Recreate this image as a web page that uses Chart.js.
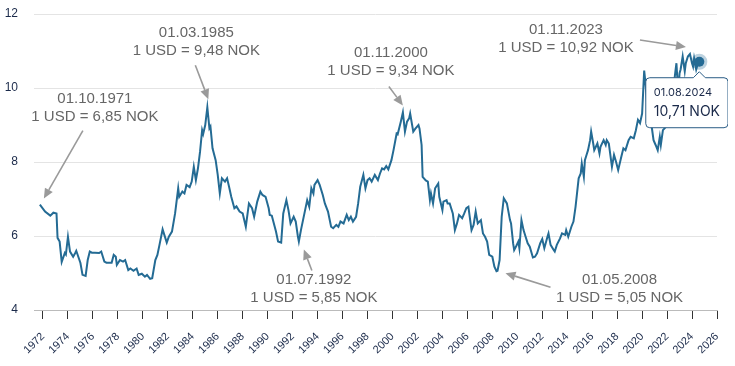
<!DOCTYPE html>
<html>
<head>
<meta charset="utf-8">
<script src="https://cdn.jsdelivr.net/npm/chart.js@4.4.1/dist/chart.umd.min.js"></script>
<style>
  html, body { margin: 0; padding: 0; background: #fff; }
  #wrap { position: relative; width: 728px; height: 366px; }
</style>
</head>
<body>
<div id="wrap"><canvas id="chart"></canvas></div>
<script>
// USD/NOK, monthly readings (YYYY-MM)
const months = [
  "1971-10","1972-03","1972-08","1972-11","1973-02","1973-03","1973-05","1973-07","1973-10","1973-11",
  "1974-01","1974-03","1974-06","1974-08","1974-09","1975-01","1975-03","1975-06","1975-08","1975-10",
  "1975-12","1976-03","1976-07","1976-09","1976-12","1977-02","1977-04","1977-07","1977-09","1977-11",
  "1977-12","1978-03","1978-06","1978-08","1978-11","1979-01","1979-04","1979-07","1979-09","1979-12",
  "1980-03","1980-05","1980-08","1980-10","1981-01","1981-03","1981-05","1981-08","1981-12","1982-02",
  "1982-05","1982-08","1982-11","1982-12","1983-03","1983-05","1983-07","1983-10","1983-12","1984-02",
  "1984-04","1984-06","1984-08","1984-10","1984-11","1985-01","1985-03","1985-05","1985-06","1985-08",
  "1985-11","1986-01","1986-03","1986-05","1986-08","1986-10","1986-12","1987-02","1987-05","1987-07",
  "1987-10","1988-01","1988-04","1988-07","1988-10","1988-12","1989-03","1989-06","1989-08","1989-11",
  "1990-02","1990-03","1990-05","1990-09","1990-11","1991-02","1991-04","1991-07","1991-09","1991-11",
  "1992-02","1992-04","1992-06","1992-07","1992-09","1993-01","1993-03","1993-05","1993-07","1993-09",
  "1993-10","1994-01","1994-03","1994-06","1994-08","1994-11","1995-02","1995-04","1995-07","1995-09",
  "1995-11","1996-02","1996-05","1996-07","1996-09","1996-11","1997-02","1997-04","1997-06","1997-09",
  "1997-11","1998-01","1998-03","1998-05","1998-08","1998-11","1999-01","1999-03","1999-05","1999-07",
  "1999-09","1999-12","2000-02","2000-05","2000-06","2000-09","2000-11","2001-01","2001-03","2001-05",
  "2001-06","2001-09","2001-11","2002-02","2002-03","2002-05","2002-06","2002-09","2002-11","2003-01",
  "2003-02","2003-04","2003-06","2003-09","2003-10","2004-01","2004-02","2004-05","2004-06","2004-08",
  "2004-11","2005-01","2005-03","2005-05","2005-08","2005-10","2005-12","2006-02","2006-05","2006-07",
  "2006-09","2006-11","2007-02","2007-04","2007-06","2007-08","2007-10","2008-01","2008-03","2008-05",
  "2008-06","2008-08","2008-10","2008-12","2009-03","2009-06","2009-07","2009-09","2009-10","2009-12",
  "2010-02","2010-03","2010-05","2010-07","2010-09","2010-11","2011-01","2011-04","2011-06","2011-08",
  "2011-11","2012-01","2012-03","2012-06","2012-07","2012-09","2012-12","2013-01","2013-03","2013-06",
  "2013-08","2013-11","2013-12","2014-02","2014-05","2014-07","2014-09","2014-12","2015-02","2015-03",
  "2015-05","2015-06","2015-08","2015-09","2015-11","2015-12","2016-02","2016-03","2016-06","2016-08",
  "2016-09","2016-12","2017-02","2017-03","2017-05","2017-08","2017-10","2017-12","2018-02","2018-05",
  "2018-07","2018-09","2018-12","2019-02","2019-05","2019-07","2019-09","2019-11","2020-01","2020-03",
  "2020-04","2020-05","2020-06","2020-08","2020-10","2020-12","2021-02","2021-04","2021-06","2021-07",
  "2021-09","2021-12","2022-02","2022-04","2022-06","2022-08","2022-09","2022-10","2022-11","2022-12",
  "2023-01","2023-02","2023-04","2023-06","2023-07","2023-09","2023-11","2024-01","2024-02","2024-03",
  "2024-05","2024-07","2024-08"
]
const usdNok = [
  6.85, 6.66, 6.55, 6.63, 6.61, 5.95, 5.85, 5.30, 5.54, 5.50,
  5.98, 5.58, 5.44, 5.54, 5.60, 5.27, 4.95, 4.92, 5.35, 5.58,
  5.55, 5.55, 5.54, 5.58, 5.31, 5.28, 5.28, 5.28, 5.49, 5.44,
  5.22, 5.35, 5.31, 5.35, 5.08, 5.12, 5.06, 5.12, 4.95, 4.98,
  4.90, 4.95, 4.84, 4.86, 5.35, 5.49, 5.76, 6.18, 5.82, 5.98,
  6.12, 6.61, 7.29, 7.06, 7.20, 7.15, 7.38, 7.32, 7.47, 7.87,
  7.51, 7.83, 8.28, 8.86, 8.76, 9.00, 9.48, 8.91, 8.96, 8.37,
  8.05, 7.65, 7.15, 7.56, 7.47, 7.56, 7.32, 7.06, 6.75, 6.80,
  6.66, 6.61, 6.25, 6.88, 6.75, 6.52, 6.93, 7.20, 7.11, 7.06,
  6.75, 6.57, 6.55, 6.12, 5.85, 5.82, 6.61, 6.97, 6.70, 6.34,
  6.52, 6.39, 6.00, 5.85, 6.16, 6.70, 6.97, 6.79, 7.29, 7.15,
  7.38, 7.51, 7.38, 7.11, 6.88, 6.66, 6.25, 6.21, 6.30, 6.25,
  6.39, 6.34, 6.57, 6.43, 6.52, 6.39, 6.52, 6.88, 7.33, 7.65,
  7.29, 7.51, 7.56, 7.47, 7.65, 7.51, 7.69, 7.83, 7.80, 7.89,
  7.80, 8.05, 8.32, 8.77, 8.75, 9.09, 9.34, 8.82, 9.09, 9.18,
  9.31, 8.82, 8.90, 9.00, 8.90, 8.46, 7.60, 7.50, 7.47, 6.97,
  7.15, 6.88, 7.29, 7.42, 7.06, 6.70, 6.93, 6.97, 6.88, 6.88,
  6.61, 6.16, 6.34, 6.57, 6.48, 6.61, 6.75, 6.79, 6.16, 6.30,
  6.66, 6.34, 6.43, 6.07, 5.98, 5.85, 5.49, 5.44, 5.17, 5.05,
  5.06, 5.35, 6.52, 7.02, 6.88, 6.43, 6.34, 5.80, 5.62, 5.73,
  5.85, 5.67, 6.43, 6.16, 5.98, 5.80, 5.71, 5.42, 5.44, 5.53,
  5.80, 5.92, 5.67, 5.98, 6.07, 5.76, 5.62, 5.58, 5.76, 5.93,
  6.07, 6.03, 6.16, 5.98, 6.25, 6.39, 6.79, 7.56, 7.69, 7.96,
  7.60, 8.05, 8.23, 8.32, 8.59, 8.82, 8.50, 8.32, 8.50, 8.23,
  8.41, 8.59, 8.46, 8.59, 8.50, 7.87, 8.19, 8.00, 7.78, 8.14,
  8.37, 8.32, 8.59, 8.68, 8.64, 8.86, 9.14, 9.05, 9.31, 10.47,
  10.20, 9.86, 9.50, 9.31, 9.00, 8.59, 8.46, 8.32, 8.68, 8.46,
  8.86, 8.95, 9.14, 9.05, 9.50, 10.20, 10.45, 10.67, 10.20, 10.00,
  10.40, 10.50, 10.85, 10.45, 10.67, 10.85, 10.92, 10.67, 10.58, 10.80,
  10.50, 10.70, 10.71
]
const xTicks = [1972, 1974, 1976, 1978, 1980, 1982, 1984, 1986, 1988, 1990, 1992, 1994, 1996, 1998,
  2000, 2002, 2004, 2006, 2008, 2010, 2012, 2014, 2016, 2018, 2020, 2022, 2024, 2026]
const yTicks = [4, 6, 8, 10, 12]
const calloutMonths = ["1971-10", "1985-03", "1992-07", "2000-11", "2008-05", "2023-11"]
const activeMonth = "2024-08"

const toYear = m => Number(m.slice(0, 4)) + (Number(m.slice(5, 7)) - 1) / 12
const fmtDate = m => "01." + m.slice(5, 7) + "." + m.slice(0, 4)
const fmtNum = v => v.toFixed(2).replace(".", ",")

const points = months.map((m, i) => ({ x: toYear(m), y: usdNok[i] }))
const activeIndex = months.indexOf(activeMonth)

const lineColor = "#246b94"
const navy = "#1b2a4a"
const labelFont = "'Liberation Sans', Arial, sans-serif"

// where each callout sits relative to its point: text centre, arrow start, arrow tip
const calloutLayout = {
  "1971-10": { text: [55, -106], from: [43, -74], to: [4, -6] },
  "1985-03": { text: [-11, -74], from: [-12, -42], to: [1, -8] },
  "1992-07": { text: [15, 38], from: [13, 29], to: [5, 8] },
  "2000-11": { text: [-12, -60], from: [-14, -26], to: [0, -7] },
  "2008-05": { text: [123, 9], from: [54, 16], to: [9, 2] },
  "2023-11": { text: [-124, -24], from: [-50, -14], to: [-4, -7] }
}

function drawArrow(ctx, x1, y1, x2, y2) {
  const ang = Math.atan2(y2 - y1, x2 - x1)
  const head = 10, half = 4.5
  const bx = x2 - head * Math.cos(ang), by = y2 - head * Math.sin(ang)
  ctx.beginPath()
  ctx.moveTo(x1, y1)
  ctx.lineTo(bx, by)
  ctx.stroke()
  ctx.beginPath()
  ctx.moveTo(x2, y2)
  ctx.lineTo(bx + half * Math.sin(ang), by - half * Math.cos(ang))
  ctx.lineTo(bx - half * Math.sin(ang), by + half * Math.cos(ang))
  ctx.closePath()
  ctx.fill()
}

const callouts = {
  id: "callouts",
  afterDatasetsDraw(chart) {
    const { ctx, scales: { x, y } } = chart
    ctx.save()
    ctx.font = "15px " + labelFont
    ctx.textAlign = "center"
    ctx.textBaseline = "middle"
    ctx.strokeStyle = "#9a9a9a"
    ctx.lineWidth = 1.6
    calloutMonths.forEach(m => {
      const i = months.indexOf(m)
      const px = x.getPixelForValue(toYear(m))
      const py = y.getPixelForValue(usdNok[i])
      const l = calloutLayout[m]
      ctx.fillStyle = "#9a9a9a"
      drawArrow(ctx, px + l.from[0], py + l.from[1], px + l.to[0], py + l.to[1])
      ctx.fillStyle = "#666666"
      ctx.fillText(fmtDate(m), px + l.text[0], py + l.text[1])
      ctx.fillText("1 USD = " + fmtNum(usdNok[i]) + " NOK", px + l.text[0], py + l.text[1] + 18)
    })
    ctx.restore()
  }
}

const chart = new Chart(document.getElementById("chart"), {
  type: "line",
  data: {
    datasets: [{
      data: points,
      borderColor: lineColor,
      borderWidth: 2,
      tension: 0,
      pointRadius: ctx => ctx.dataIndex === activeIndex ? 5 : 0,
      pointBackgroundColor: lineColor,
      pointBorderColor: "rgba(36,107,148,0.3)",
      pointBorderWidth: 6,
      pointHoverRadius: 5,
      pointHoverBorderWidth: 6
    }]
  },
  options: {
    animation: false,
    responsive: true,
    maintainAspectRatio: false,
    events: [],
    layout: { padding: { left: 5, top: 14, right: 9, bottom: 8 } },
    plugins: {
      legend: { display: false },
      tooltip: {
        backgroundColor: "#ffffff",
        borderColor: "#2b5d86",
        borderWidth: 1,
        cornerRadius: 4,
        caretSize: 6,
        caretPadding: 10,
        padding: { x: 8, y: 8 },
        xAlign: "center",
        yAlign: "top",
        displayColors: false,
        titleColor: navy,
        bodyColor: navy,
        titleFont: { family: "Inter, sans-serif", size: 11, weight: "normal" },
        bodyFont: { family: "Inter, sans-serif", size: 14 },
        titleMarginBottom: 4,
        callbacks: {
          title: items => fmtDate(months[items[0].dataIndex]),
          label: item => fmtNum(item.parsed.y) + " NOK"
        }
      }
    },
    scales: {
      x: {
        type: "linear",
        min: 1971.28,
        max: 2026,
        afterBuildTicks: axis => { axis.ticks = xTicks.map(v => ({ value: v })) },
        afterFit: axis => { axis.paddingLeft = 0; axis.paddingRight = 0; axis.height = 48 },
        grid: { drawOnChartArea: false, drawTicks: true, tickLength: 9, color: "#333333" },
        border: { display: true, color: "#bbbbbb" },
        ticks: {
          autoSkip: false,
          maxRotation: 45,
          minRotation: 45,
          padding: 11,
          color: navy,
          font: { family: labelFont, size: 11 },
          callback: v => String(v)
        }
      },
      y: {
        min: 4,
        max: 12,
        afterBuildTicks: axis => { axis.ticks = yTicks.map(v => ({ value: v })) },
        afterFit: axis => { axis.width = 29; axis.paddingTop = 0; axis.paddingBottom = 0 },
        grid: { color: "#e4e4e4", drawTicks: false },
        border: { display: false },
        ticks: {
          padding: 16,
          color: navy,
          font: { family: labelFont, size: 12 }
        }
      }
    }
  },
  plugins: [callouts]
})

chart.tooltip.setActiveElements([{ datasetIndex: 0, index: activeIndex }], { x: 0, y: 0 })
chart.update()
</script>
</body>
</html>
